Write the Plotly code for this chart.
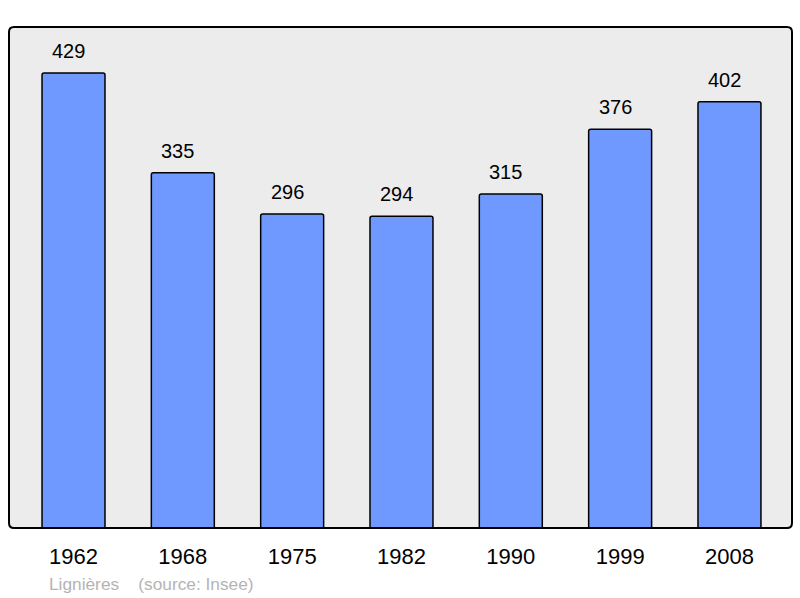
import plotly.graph_objects as go

years = ["1962", "1968", "1975", "1982", "1990", "1999", "2008"]
population = [429, 335, 296, 294, 315, 376, 402]
footer_text = "Lignières    (source: Insee)"

W, H = 800, 598
L, R, T, B = 9, 8, 27, 70
pw, ph = W - L - R, H - T - B

xs = list(range(len(years)))
fig = go.Figure()
fig.add_trace(go.Bar(
    x=xs, y=population, width=0.576,
    marker=dict(color="#7099ff", line=dict(color="#000000", width=1.5), cornerradius=2),
    hoverinfo="skip",
))
for xi, v in zip(xs, population):
    fig.add_annotation(x=xi, y=v, text=str(v), showarrow=False, yanchor="bottom",
                       yshift=9, xshift=-5,
                       font=dict(family="Liberation Sans, Arial", size=20, color="#000"))

rx, ry = 5 / pw, 5 / ph
path = (f"M {rx},0 L {1-rx},0 Q 1,0 1,{ry} L 1,{1-ry} Q 1,1 {1-rx},1 "
        f"L {rx},1 Q 0,1 0,{1-ry} L 0,{ry} Q 0,0 {rx},0 Z")
fig.add_shape(type="path", path=path, xref="paper", yref="paper",
              line=dict(color="#000", width=2), layer="above")

fig.add_annotation(x=(47 - L) / pw, y=(H - 584 - B) / ph, xref="paper", yref="paper",
                   text=footer_text, showarrow=False, xanchor="left", yanchor="middle",
                   font=dict(family="Liberation Sans, Arial", size=17.3, color="#b4b4b4"))

fig.update_layout(
    width=W, height=H, margin=dict(l=L, r=R, t=T, b=B, autoexpand=False),
    paper_bgcolor="#ffffff", plot_bgcolor="#ececec", showlegend=False,
    font=dict(family="Liberation Sans, Arial"),
    xaxis=dict(range=[-0.59, 6.572], tickmode="array", tickvals=xs, ticktext=years,
               showgrid=False, zeroline=False, showline=False, ticks="",
               ticklabelstandoff=13,
               tickfont=dict(size=22, color="#000"), fixedrange=True),
    yaxis=dict(range=[0, 472.4], showgrid=False, zeroline=False, showticklabels=False,
               showline=False, fixedrange=True),
)
fig.write_html("out.html", config={"displayModeBar": False},
               post_script="document.body.style.margin='0';document.body.style.overflow='hidden';")
